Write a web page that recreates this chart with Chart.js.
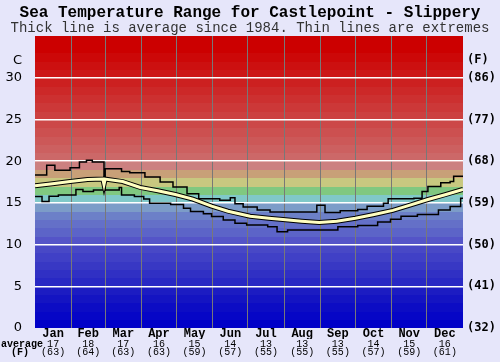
<!DOCTYPE html>
<html>
<head>
<meta charset="utf-8">
<script src="https://cdn.jsdelivr.net/npm/chart.js@4.4.0/dist/chart.umd.min.js"></script>
<style>
  html, body { margin: 0; padding: 0; background: #e6e6fa; }
  canvas { display: block; }
</style>
</head>
<body>
<canvas id="seaChart" width="500" height="362"></canvas>
<script>
// Month labels and monthly averages (C and F)
const months = ['Jan', 'Feb', 'Mar', 'Apr', 'May', 'Jun', 'Jul', 'Aug', 'Sep', 'Oct', 'Nov', 'Dec'];
const avgC = [17, 18, 17, 16, 15, 14, 13, 13, 13, 14, 15, 16];
const avgF = [63, 64, 63, 63, 59, 57, 55, 55, 55, 57, 59, 61];
const monthStarts = [0, 31, 60, 91, 121, 152, 182, 213, 244, 274, 305, 335, 366];

// Temperature ticks (C) and their Fahrenheit labels
const cTicks = [0, 5, 10, 15, 20, 25, 30];
const fTickLabels = ['(32)', '(41)', '(50)', '(59)', '(68)', '(77)', '(86)'];

// Average since 1984 (day of year, C)
const avgDays = [0, 15, 30, 45, 58, 59, 60, 75, 90, 105, 120, 135, 151, 165, 184, 200, 212, 228, 243, 258, 274, 290, 306, 320, 336, 350, 366];
const avgTemps = [17.05, 17.3, 17.55, 17.8, 17.85, 17.2, 17.85, 17.55, 16.85, 16.45, 16.0, 15.45, 14.6, 14.0, 13.4, 13.15, 13.0, 12.8, 12.65, 12.8, 13.15, 13.6, 14.1, 14.7, 15.4, 15.95, 16.6];

// Highest recorded (step starts)
const maxDays = [0, 10, 17, 30, 38, 44, 49, 59, 60, 74, 81, 94, 107, 118, 130, 140, 158, 167, 171, 178, 190, 201, 241, 248, 261, 276, 284, 298, 302, 324, 331, 336, 347, 355, 358, 366];
const maxTemps = [18.35, 19.5, 18.9, 19.2, 19.9, 20.1, 19.9, 16.5, 19.1, 18.75, 18.6, 18.1, 17.5, 16.9, 16.1, 15.5, 15.3, 15.6, 14.9, 14.5, 14.15, 13.9, 14.7, 13.85, 14.05, 14.2, 14.6, 14.95, 15.5, 15.55, 16.35, 16.95, 17.4, 17.55, 18.2, 18.2];

// Lowest recorded (step starts)
const minDays = [0, 6, 12, 20, 35, 41, 50, 72, 74, 85, 93, 98, 116, 127, 133, 144, 151, 161, 171, 181, 199, 207, 216, 259, 276, 293, 304, 313, 327, 345, 355, 364, 366];
const minTemps = [15.75, 15.15, 15.8, 15.95, 16.6, 16.35, 16.55, 16.85, 15.95, 15.75, 15.45, 14.95, 14.8, 14.35, 13.95, 13.7, 13.35, 12.95, 12.55, 12.35, 12.15, 11.55, 11.75, 12.15, 12.3, 12.7, 13.05, 13.4, 13.6, 14.15, 14.55, 15.55, 15.55];

// one colour per degree band, 0-1C at the bottom
const bandColors = [
  '#0000c8', '#0606c6', '#0c0cc4', '#1414c2', '#1c1cc2',
  '#2828c4', '#3030c4', '#3838c4', '#4040c6', '#4848c6',
  '#5454c8', '#5c64c8', '#6470c8', '#6c80c8', '#7c9cc8',
  '#80c8c8', '#80c880', '#c8c880', '#c8a078', '#cc8080',
  '#cc6868', '#cc6060', '#cc5858', '#cc5050', '#cc4848',
  '#cc4040', '#cc3838', '#cc3030', '#cc2828', '#cc2020',
  '#cc1818', '#cc1010', '#cc0808', '#cc0000', '#cc0000'
];

const toPoints = (xs, ys) => xs.map((x, i) => ({ x: x, y: ys[i] }));
const monoFont = '"Liberation Mono", "Courier New", monospace';

const bandsPlugin = {
  id: 'bands',
  beforeDraw(chart) {
    const { ctx, chartArea, scales } = chart;
    ctx.save();
    ctx.fillStyle = '#e6e6fa';
    ctx.fillRect(0, 0, chart.width, chart.height);
    bandColors.forEach((c, i) => {
      const top = scales.y.getPixelForValue(i + 1);
      const bottom = scales.y.getPixelForValue(i);
      ctx.fillStyle = c;
      ctx.fillRect(chartArea.left, Math.floor(top), chartArea.right - chartArea.left, Math.ceil(bottom) - Math.floor(top));
    });
    ctx.restore();
  },
  afterDraw(chart) {
    const ctx = chart.ctx;
    ctx.save();
    ctx.fillStyle = '#000';
    ctx.font = 'bold 10px ' + monoFont;
    ctx.textAlign = 'center';
    ctx.textBaseline = 'middle';
    ctx.fillText('average', 22, 344);
    ctx.fillText('(F)', 20, 352.5);
    ctx.restore();
  }
};

const seaCtx = document.getElementById('seaChart').getContext('2d');
const seaChart = new Chart(seaCtx, {
  type: 'line',
  data: {
    datasets: [
      {
        label: 'Average',
        data: toPoints(avgDays, avgTemps),
        borderColor: '#ffffc0',
        borderWidth: 3,
        pointRadius: 0,
        order: 0
      },
      {
        label: 'Average outline',
        data: toPoints(avgDays, avgTemps),
        borderColor: '#000',
        borderWidth: 5,
        pointRadius: 0,
        order: 1
      },
      {
        label: 'Max',
        data: toPoints(maxDays, maxTemps),
        borderColor: '#000',
        borderWidth: 1.5,
        pointRadius: 0,
        stepped: 'before',
        order: 2
      },
      {
        label: 'Min',
        data: toPoints(minDays, minTemps),
        borderColor: '#000',
        borderWidth: 1.5,
        pointRadius: 0,
        stepped: 'before',
        order: 2
      }
    ]
  },
  options: {
    responsive: false,
    animation: false,
    devicePixelRatio: 1,
    layout: { padding: 0 },
    plugins: {
      legend: { display: false },
      tooltip: { enabled: false },
      title: {
        display: true,
        text: 'Sea Temperature Range for Castlepoint - Slippery',
        color: '#000',
        font: { family: monoFont, size: 16, weight: 'bold', lineHeight: 1 },
        padding: { top: 5, bottom: 0 }
      },
      subtitle: {
        display: true,
        text: 'Thick line is average since 1984. Thin lines are extremes',
        color: '#333',
        font: { family: monoFont, size: 14, lineHeight: 1 },
        padding: { top: 0, bottom: 1 }
      }
    },
    scales: {
      x: {
        type: 'linear',
        min: 0,
        max: 366,
        weight: 0,
        afterBuildTicks: (scale) => { scale.ticks = monthStarts.map(v => ({ value: v })); },
        afterFit: (scale) => { scale.height = 0; },
        ticks: { display: false },
        border: { display: false },
        grid: {
          drawTicks: false,
          color: (c) => (c.tick && c.tick.value > 0 && c.tick.value < 366) ? '#787878' : 'rgba(0,0,0,0)',
          lineWidth: 1
        }
      },
      xMonth: {
        type: 'linear',
        position: 'bottom',
        min: 0,
        max: 366,
        weight: 1,
        afterBuildTicks: (scale) => {
          scale.ticks = months.map((m, i) => ({ value: (monthStarts[i] + monthStarts[i + 1]) / 2 }));
        },
        afterFit: (scale) => { scale.height = 11; },
        border: { display: false },
        grid: { display: false, drawTicks: false },
        ticks: {
          autoSkip: false,
          maxRotation: 0,
          padding: 0,
          color: '#000',
          font: { family: monoFont, size: 12, weight: 'bold', lineHeight: 1 },
          callback: (v, i) => months[i]
        }
      },
      xAvg: {
        type: 'linear',
        position: 'bottom',
        min: 0,
        max: 366,
        weight: 2,
        afterBuildTicks: (scale) => {
          scale.ticks = months.map((m, i) => ({ value: (monthStarts[i] + monthStarts[i + 1]) / 2 }));
        },
        afterFit: (scale) => { scale.height = 23; },
        border: { display: false },
        grid: { display: false, drawTicks: false },
        ticks: {
          autoSkip: false,
          maxRotation: 0,
          padding: 1,
          color: '#000',
          font: { family: monoFont, size: 10, lineHeight: 0.85 },
          callback: (v, i) => [String(avgC[i]), '(' + avgF[i] + ')']
        }
      },
      y: {
        type: 'linear',
        position: 'left',
        min: 0,
        max: 35,
        afterBuildTicks: (scale) => {
          scale.ticks = cTicks.map(v => ({ value: v })).concat([{ value: 32.1 }]);
        },
        afterFit: (scale) => { scale.width = 35; },
        border: { display: false },
        grid: {
          drawTicks: false,
          color: (c) => (c.tick && c.tick.value > 0 && c.tick.value < 31) ? '#ffffff' : 'rgba(0,0,0,0)',
          lineWidth: 1.5
        },
        ticks: {
          autoSkip: false,
          padding: 13,
          color: '#000',
          font: { family: '"DejaVu Sans", sans-serif', size: 13 },
          callback: (v) => v > 31 ? 'C' : String(v)
        }
      },
      y2: {
        type: 'linear',
        position: 'right',
        min: 0,
        max: 35,
        afterBuildTicks: (scale) => {
          scale.ticks = cTicks.map(v => ({ value: v })).concat([{ value: 32.1 }]);
        },
        afterFit: (scale) => { scale.width = 37; },
        border: { display: false },
        grid: { display: false, drawTicks: false },
        ticks: {
          autoSkip: false,
          padding: 4,
          color: '#000',
          font: { family: '"DejaVu Sans Mono", monospace', size: 12, weight: 'bold' },
          callback: (v, i) => v > 31 ? '(F)' : fTickLabels[i]
        }
      }
    }
  },
  plugins: [bandsPlugin]
});
</script>
</body>
</html>
